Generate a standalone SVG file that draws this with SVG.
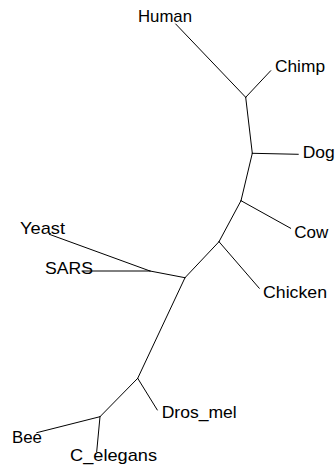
<svg xmlns="http://www.w3.org/2000/svg" width="336" height="470" viewBox="0 0 336 470">
<style>
.e{stroke:#000;stroke-width:1;fill:none;stroke-linecap:round}
.t{font-family:"Liberation Sans",Arial,sans-serif;font-size:17px;fill:#000}
</style>
<rect width="336" height="470" fill="#fff"/>
<g id="edges">
<line class="e" x1="175.7" y1="24" x2="245.7" y2="97.3"/>
<line class="e" x1="270.7" y1="70.7" x2="245.7" y2="97.3"/>
<line class="e" x1="245.7" y1="97.3" x2="252.3" y2="153.3"/>
<line class="e" x1="252.3" y1="153.3" x2="298.3" y2="154.3"/>
<line class="e" x1="252.3" y1="153.3" x2="241" y2="200.7"/>
<line class="e" x1="241" y1="200.7" x2="290.7" y2="228.3"/>
<line class="e" x1="241" y1="200.7" x2="219" y2="241.7"/>
<line class="e" x1="219" y1="241.7" x2="259.3" y2="288.3"/>
<line class="e" x1="219" y1="241.7" x2="185" y2="277.7"/>
<line class="e" x1="150" y1="271" x2="185" y2="277.7"/>
<line class="e" x1="49.3" y1="234.3" x2="150" y2="271"/>
<line class="e" x1="82" y1="271" x2="150" y2="271"/>
<line class="e" x1="185" y1="277.7" x2="137.7" y2="378.3"/>
<line class="e" x1="137.7" y1="378.3" x2="157.3" y2="410"/>
<line class="e" x1="137.7" y1="378.3" x2="100" y2="416.7"/>
<line class="e" x1="100" y1="416.7" x2="36.7" y2="432.7"/>
<line class="e" x1="100" y1="416.7" x2="96.7" y2="451.7"/>
</g>
<g id="Human"><text class="t" x="138" y="22.3" textLength="54" lengthAdjust="spacingAndGlyphs">Human</text></g>
<g id="Chimp"><text class="t" x="275" y="71.7" textLength="50" lengthAdjust="spacingAndGlyphs">Chimp</text></g>
<g id="Dog"><text class="t" x="302.7" y="158.3" textLength="32" lengthAdjust="spacingAndGlyphs">Dog</text></g>
<g id="Cow"><text class="t" x="294.3" y="238.3" textLength="34" lengthAdjust="spacingAndGlyphs">Cow</text></g>
<g id="Chicken"><text class="t" x="263" y="297.5" textLength="64" lengthAdjust="spacingAndGlyphs">Chicken</text></g>
<g id="Yeast"><text class="t" x="20" y="234" textLength="45" lengthAdjust="spacingAndGlyphs">Yeast</text></g>
<g id="SARS"><text class="t" x="45" y="274.3" textLength="48" lengthAdjust="spacingAndGlyphs">SARS</text></g>
<g id="Dros_mel"><text class="t" x="161.7" y="418.3" textLength="75" lengthAdjust="spacingAndGlyphs">Dros_mel</text></g>
<g id="Bee"><text class="t" x="12" y="443.3" textLength="30" lengthAdjust="spacingAndGlyphs">Bee</text></g>
<g id="C_elegans"><text class="t" x="70" y="461" textLength="87" lengthAdjust="spacingAndGlyphs">C_elegans</text></g>
</svg>
